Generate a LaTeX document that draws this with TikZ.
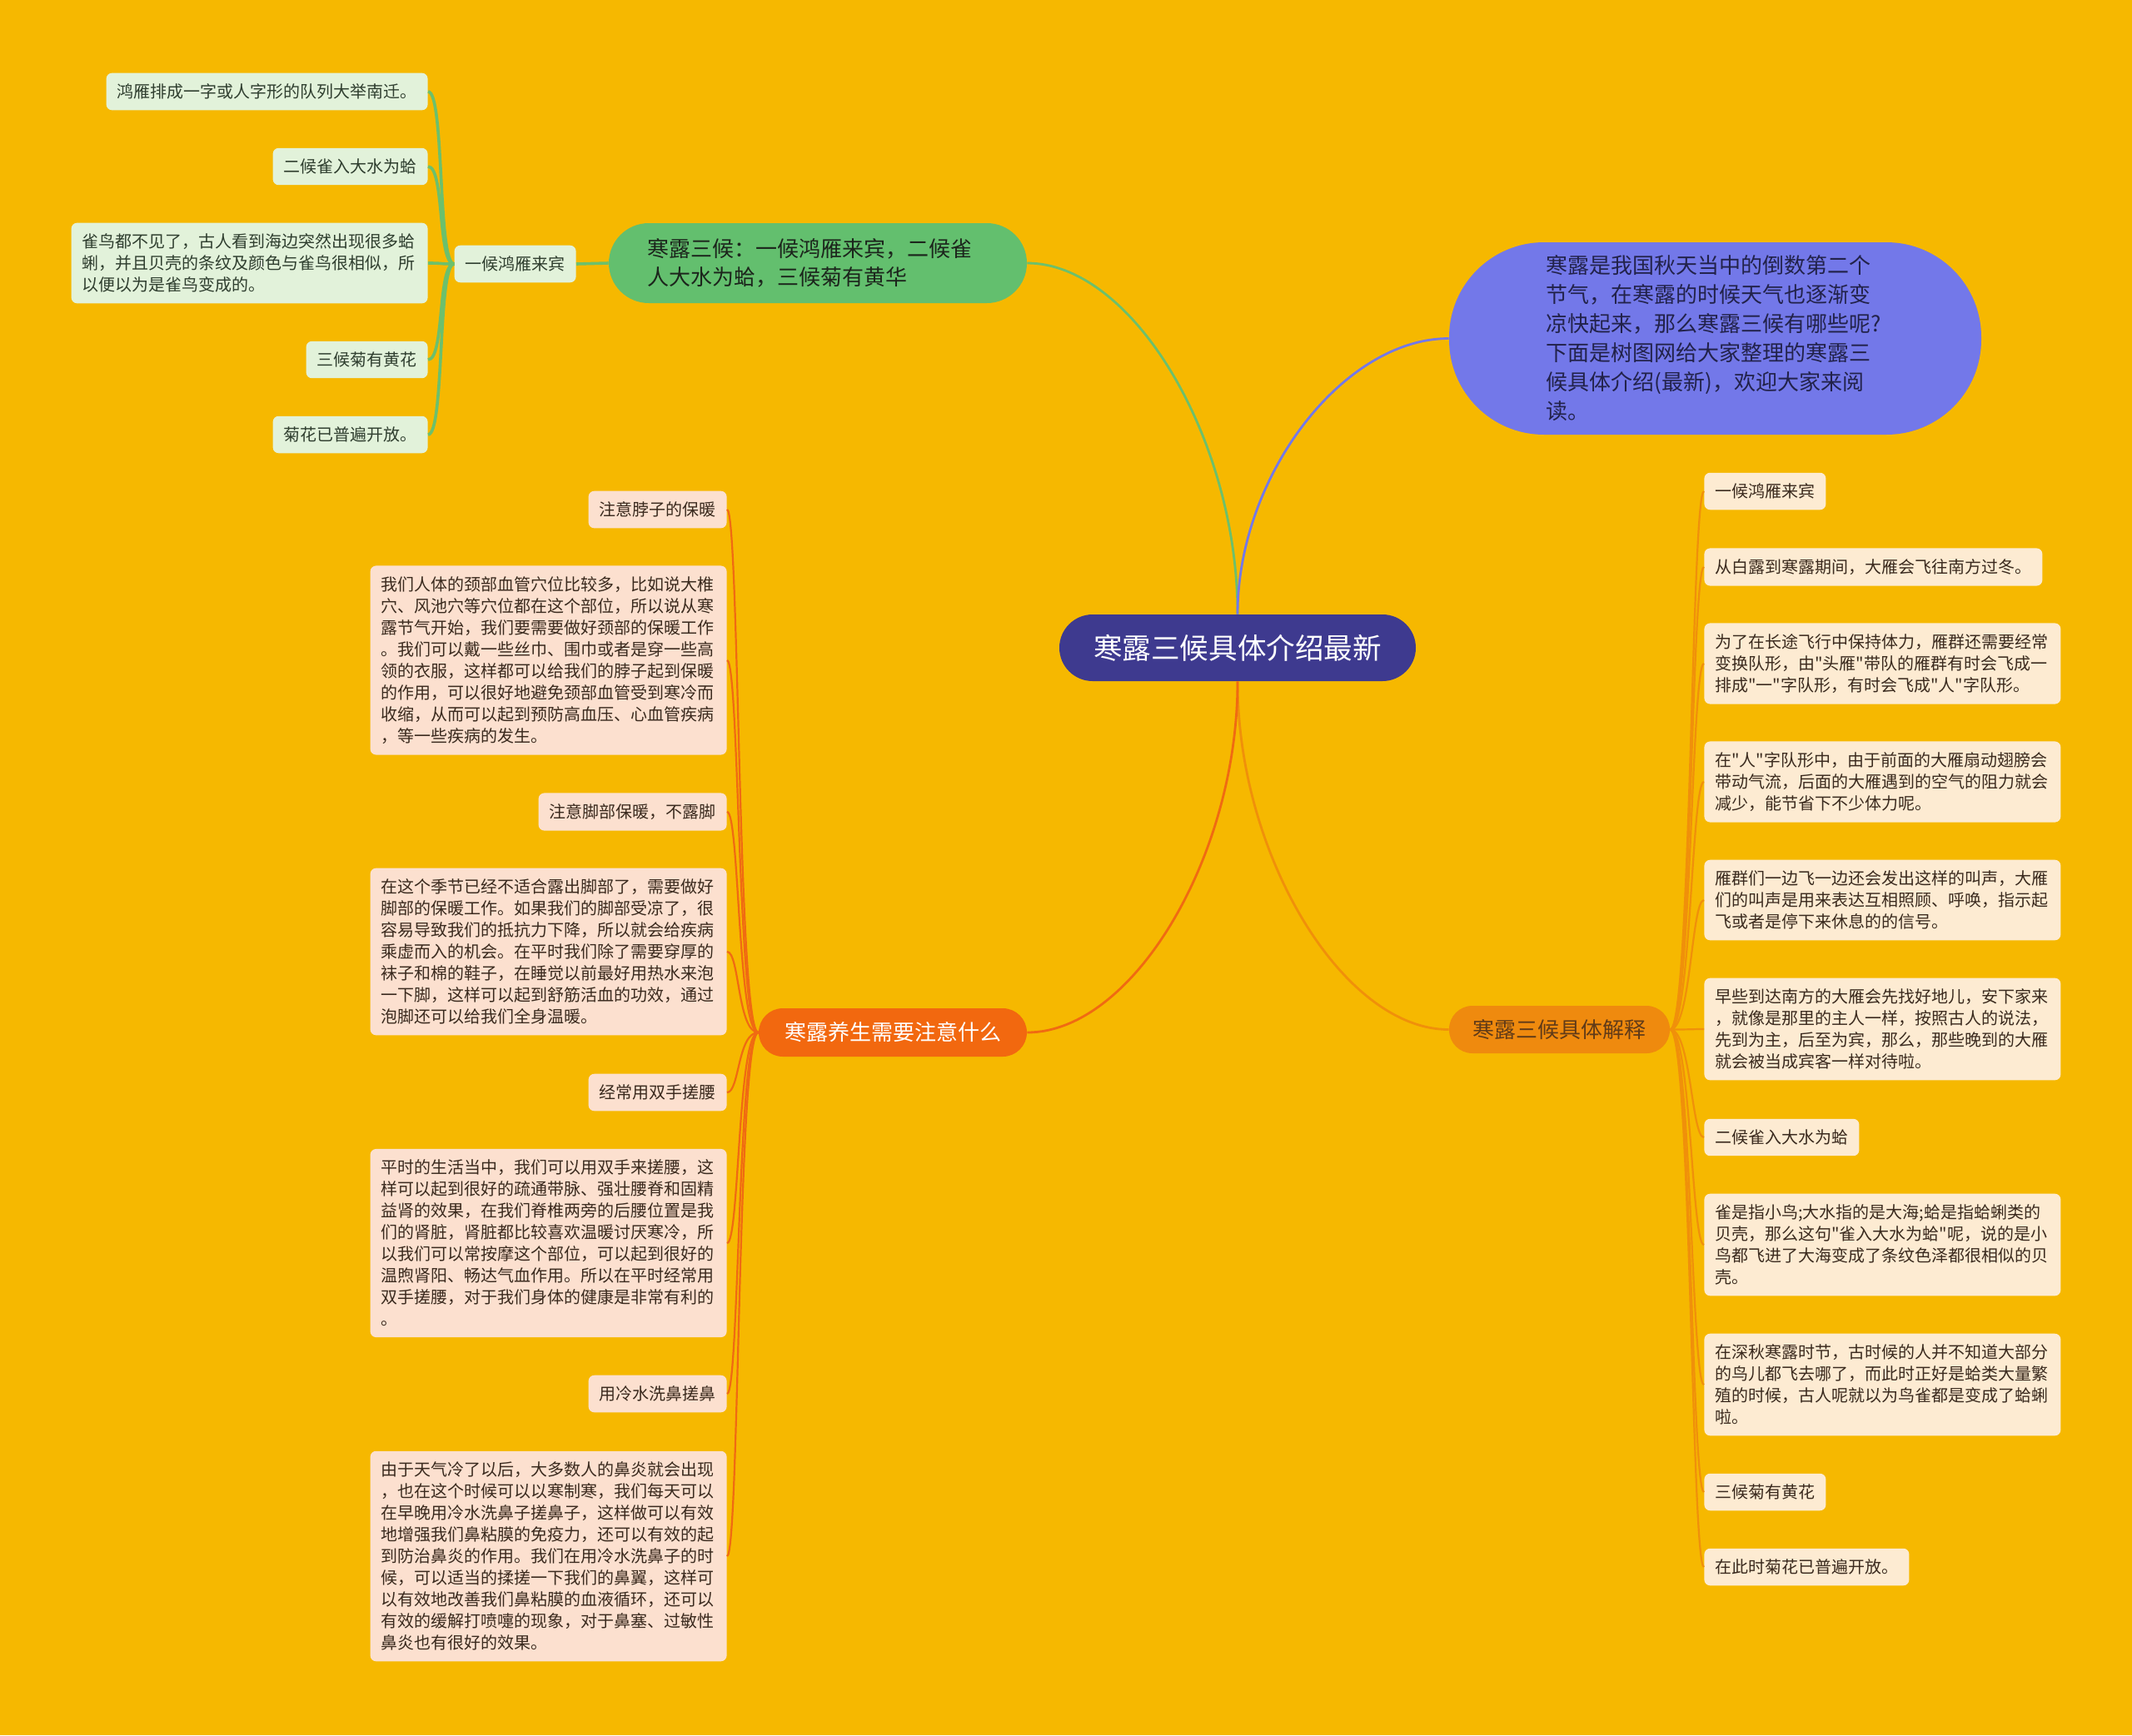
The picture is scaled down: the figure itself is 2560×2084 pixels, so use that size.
\documentclass[tikz,border=0pt]{standalone}
\usepackage{fontspec}
\setmainfont{Noto Sans CJK SC}[Ligatures=TeXOff]
\usetikzlibrary{calc}

\definecolor{bgyel}{HTML}{F6B800}
\definecolor{rootblue}{HTML}{3E3A8F}
\definecolor{topicgreen}{HTML}{63BF6E}
\definecolor{topicpurple}{HTML}{7378E9}
\definecolor{topicorange}{HTML}{EF8A0E}
\definecolor{topicred}{HTML}{F2680F}
\definecolor{leafgreen}{HTML}{E2F2DA}
\definecolor{leafpeach}{HTML}{FCE0CF}
\definecolor{leafcream}{HTML}{FDEBD2}
\definecolor{txtgreen}{HTML}{2F3E2F}
\definecolor{txtbrown}{HTML}{3A2A1E}
\definecolor{txtnavy}{HTML}{22224A}
\definecolor{lineGreen}{HTML}{6CC06C}
\definecolor{lineOrange}{HTML}{F0900A}
\definecolor{lineRed}{HTML}{F06A12}

\begin{document}
\begin{tikzpicture}[
  x=0.5pt, y=-0.5pt,
  every node/.style={inner sep=0pt},
  leaf/.style={rounded corners=3.5pt, inner xsep=6.5pt, inner ysep=6.5pt,
               font=\fontsize{10pt}{13pt}\selectfont, align=left},
  leafG/.style={leaf, fill=leafgreen, text=txtgreen},
  leafL/.style={leaf, fill=leafpeach, text=txtbrown},
  leafR/.style={leaf, fill=leafcream, text=txtbrown},
  para/.style={text width=201pt},
  topic/.style={font=\fontsize{13pt}{17pt}\selectfont},
  lkG/.style={draw=lineGreen, line width=1.4pt},
  lkP/.style={draw=topicpurple, line width=1.4pt},
  lkO/.style={draw=lineOrange, line width=1.4pt},
  lkR/.style={draw=lineRed, line width=1.4pt},
  leafline/.style={line width=1.1pt},
]
  \useasboundingbox (0,0) rectangle (2560,2084);
  \fill[bgyel] (0,0) rectangle (2560,2084);

  % Centre
  \node[fill=rootblue, text=white, rounded corners=20pt, minimum width=214pt,
        minimum height=40pt, font=\fontsize{17.3pt}{20pt}\selectfont]
    (root) at (1486,778) {寒露三候具体介绍最新};

  % Main topics
  \node[topic, fill=topicgreen, text=txtgreen!60!black, minimum width=251pt,
        minimum height=48pt, rounded corners=24pt, text width=205pt, align=left]
    (hou) at (982,316) {寒露三候：一候鸿雁来宾，二候雀\\人大水为蛤，三候菊有黄华};
  \node[topic, fill=topicpurple, text=txtnavy, minimum width=319.5pt,
        minimum height=115.5pt, rounded corners=57pt, text width=203pt, align=left,
        font=\fontsize{13pt}{17.5pt}\selectfont]
    (intro) at (2059.5,406.5) {寒露是我国秋天当中的倒数第二个\\节气，在寒露的时候天气也逐渐变\\凉快起来，那么寒露三候有哪些呢?\\下面是树图网给大家整理的寒露三\\候具体介绍(最新)，欢迎大家来阅\\读。};
  \node[topic, fill=topicorange, text=txtbrown!80!orange, minimum width=132.5pt,
        minimum height=28.5pt, rounded corners=14pt]
    (expl) at (1872.5,1236.5) {寒露三候具体解释};
  \node[topic, fill=topicred, text=white, minimum width=161pt,
        minimum height=29pt, rounded corners=14.5pt]
    (care) at (1072,1240) {寒露养生需要注意什么};

  % Top-left branch
  \node[leafG, anchor=east] (hy) at (692,317) {一候鸿雁来宾};
  \node[leafG, anchor=east] (tl1) at (514,110) {鸿雁排成一字或人字形的队列大举南迁。};
  \node[leafG, anchor=east] (tl2) at (514,200) {二候雀入大水为蛤};
  \node[leafG, para, anchor=east] (tl3) at (514,316) {雀鸟都不见了，古人看到海边突然出现很多蛤\\蜊，并且贝壳的条纹及颜色与雀鸟很相似，所\\以便以为是雀鸟变成的。};
  \node[leafG, anchor=east] (tl4) at (514,432) {三候菊有黄花};
  \node[leafG, anchor=east] (tl5) at (514,522) {菊花已普遍开放。};

  % Left branch
  \node[leafL, anchor=east] (l1) at (873,612) {注意脖子的保暖};
  \node[leafL, para, anchor=east] (l2) at (873,793) {我们人体的颈部血管穴位比较多，比如说大椎\\穴、风池穴等穴位都在这个部位，所以说从寒\\露节气开始，我们要需要做好颈部的保暖工作\\。我们可以戴一些丝巾、围巾或者是穿一些高\\领的衣服，这样都可以给我们的脖子起到保暖\\的作用，可以很好地避免颈部血管受到寒冷而\\收缩，从而可以起到预防高血压、心血管疾病\\，等一些疾病的发生。};
  \node[leafL, anchor=east] (l3) at (873,975) {注意脚部保暖，不露脚};
  \node[leafL, para, anchor=east] (l4) at (873,1143) {在这个季节已经不适合露出脚部了，需要做好\\脚部的保暖工作。如果我们的脚部受凉了，很\\容易导致我们的抵抗力下降，所以就会给疾病\\乘虚而入的机会。在平时我们除了需要穿厚的\\袜子和棉的鞋子，在睡觉以前最好用热水来泡\\一下脚，这样可以起到舒筋活血的功效，通过\\泡脚还可以给我们全身温暖。};
  \node[leafL, anchor=east] (l5) at (873,1312) {经常用双手搓腰};
  \node[leafL, para, anchor=east] (l6) at (873,1493) {平时的生活当中，我们可以用双手来搓腰，这\\样可以起到很好的疏通带脉、强壮腰脊和固精\\益肾的效果，在我们脊椎两旁的后腰位置是我\\们的肾脏，肾脏都比较喜欢温暖讨厌寒冷，所\\以我们可以常按摩这个部位，可以起到很好的\\温煦肾阳、畅达气血作用。所以在平时经常用\\双手搓腰，对于我们身体的健康是非常有利的\\。};
  \node[leafL, anchor=east] (l7) at (873,1674) {用冷水洗鼻搓鼻};
  \node[leafL, para, anchor=east] (l8) at (873,1869) {由于天气冷了以后，大多数人的鼻炎就会出现\\，也在这个时候可以以寒制寒，我们每天可以\\在早晚用冷水洗鼻子搓鼻子，这样做可以有效\\地增强我们鼻粘膜的免疫力，还可以有效的起\\到防治鼻炎的作用。我们在用冷水洗鼻子的时\\候，可以适当的揉搓一下我们的鼻翼，这样可\\以有效地改善我们鼻粘膜的血液循环，还可以\\有效的缓解打喷嚏的现象，对于鼻塞、过敏性\\鼻炎也有很好的效果。};

  % Right branch
  \node[leafR, anchor=west] (r1) at (2046,590) {一候鸿雁来宾};
  \node[leafR, anchor=west] (r2) at (2046,681) {从白露到寒露期间，大雁会飞往南方过冬。};
  \node[leafR, para, anchor=west] (r3) at (2046,797) {为了在长途飞行中保持体力，雁群还需要经常\\变换队形，由"头雁"带队的雁群有时会飞成一\\排成"一"字队形，有时会飞成"人"字队形。};
  \node[leafR, para, anchor=west] (r4) at (2046,939) {在"人"字队形中，由于前面的大雁扇动翅膀会\\带动气流，后面的大雁遇到的空气的阻力就会\\减少，能节省下不少体力呢。};
  \node[leafR, para, anchor=west] (r5) at (2046,1081) {雁群们一边飞一边还会发出这样的叫声，大雁\\们的叫声是用来表达互相照顾、呼唤，指示起\\飞或者是停下来休息的的信号。};
  \node[leafR, para, anchor=west] (r6) at (2046,1236) {早些到达南方的大雁会先找好地儿，安下家来\\，就像是那里的主人一样，按照古人的说法，\\先到为主，后至为宾，那么，那些晚到的大雁\\就会被当成宾客一样对待啦。};
  \node[leafR, anchor=west] (r7) at (2046,1366) {二候雀入大水为蛤};
  \node[leafR, para, anchor=west] (r8) at (2046,1495) {雀是指小鸟;大水指的是大海;蛤是指蛤蜊类的\\贝壳，那么这句"雀入大水为蛤"呢，说的是小\\鸟都飞进了大海变成了条纹色泽都很相似的贝\\壳。};
  \node[leafR, para, anchor=west] (r9) at (2046,1663) {在深秋寒露时节，古时候的人并不知道大部分\\的鸟儿都飞去哪了，而此时正好是蛤类大量繁\\殖的时候，古人呢就以为鸟雀都是变成了蛤蜊\\啦。};
  \node[leafR, anchor=west] (r10) at (2046,1792) {三候菊有黄花};
  \node[leafR, anchor=west] (r11) at (2046,1882) {在此时菊花已普遍开放。};

  % Centre to topics
  \draw[lkG] (root.north) .. controls ($(root.north)!0.5!(root.north |- hou.east)$)
    and ($(hou.east)!0.5!(root.north |- hou.east)$) .. (hou.east);
  \draw[lkP] (root.north) .. controls ($(root.north)!0.5!(root.north |- intro.west)$)
    and ($(intro.west)!0.5!(root.north |- intro.west)$) .. (intro.west);
  \draw[lkO] (root.south) .. controls ($(root.south)!0.5!(root.south |- expl.west)$)
    and ($(expl.west)!0.5!(root.south |- expl.west)$) .. (expl.west);
  \draw[lkR] (root.south) .. controls ($(root.south)!0.5!(root.south |- care.east)$)
    and ($(care.east)!0.5!(root.south |- care.east)$) .. (care.east);

  % Topics to leaves
  \draw[lkG, line width=1.8pt] (hou.west) -- (hy.east);
  \foreach \n in {tl1,tl2,tl3,tl4,tl5}
    \draw[lkG, line width=1.8pt] (hy.west) .. controls +(-20,0) and +(20,0) .. (\n.east);
  \foreach \n in {l1,l2,l3,l4,l5,l6,l7,l8}
    \draw[lkR, leafline] (care.west) .. controls +(-25,0) and +(15,0) .. (\n.east);
  \foreach \n in {r1,r2,r3,r4,r5,r6,r7,r8,r9,r10,r11}
    \draw[lkO, leafline] (expl.east) .. controls +(25,0) and +(-15,0) .. (\n.west);
\end{tikzpicture}
\end{document}
